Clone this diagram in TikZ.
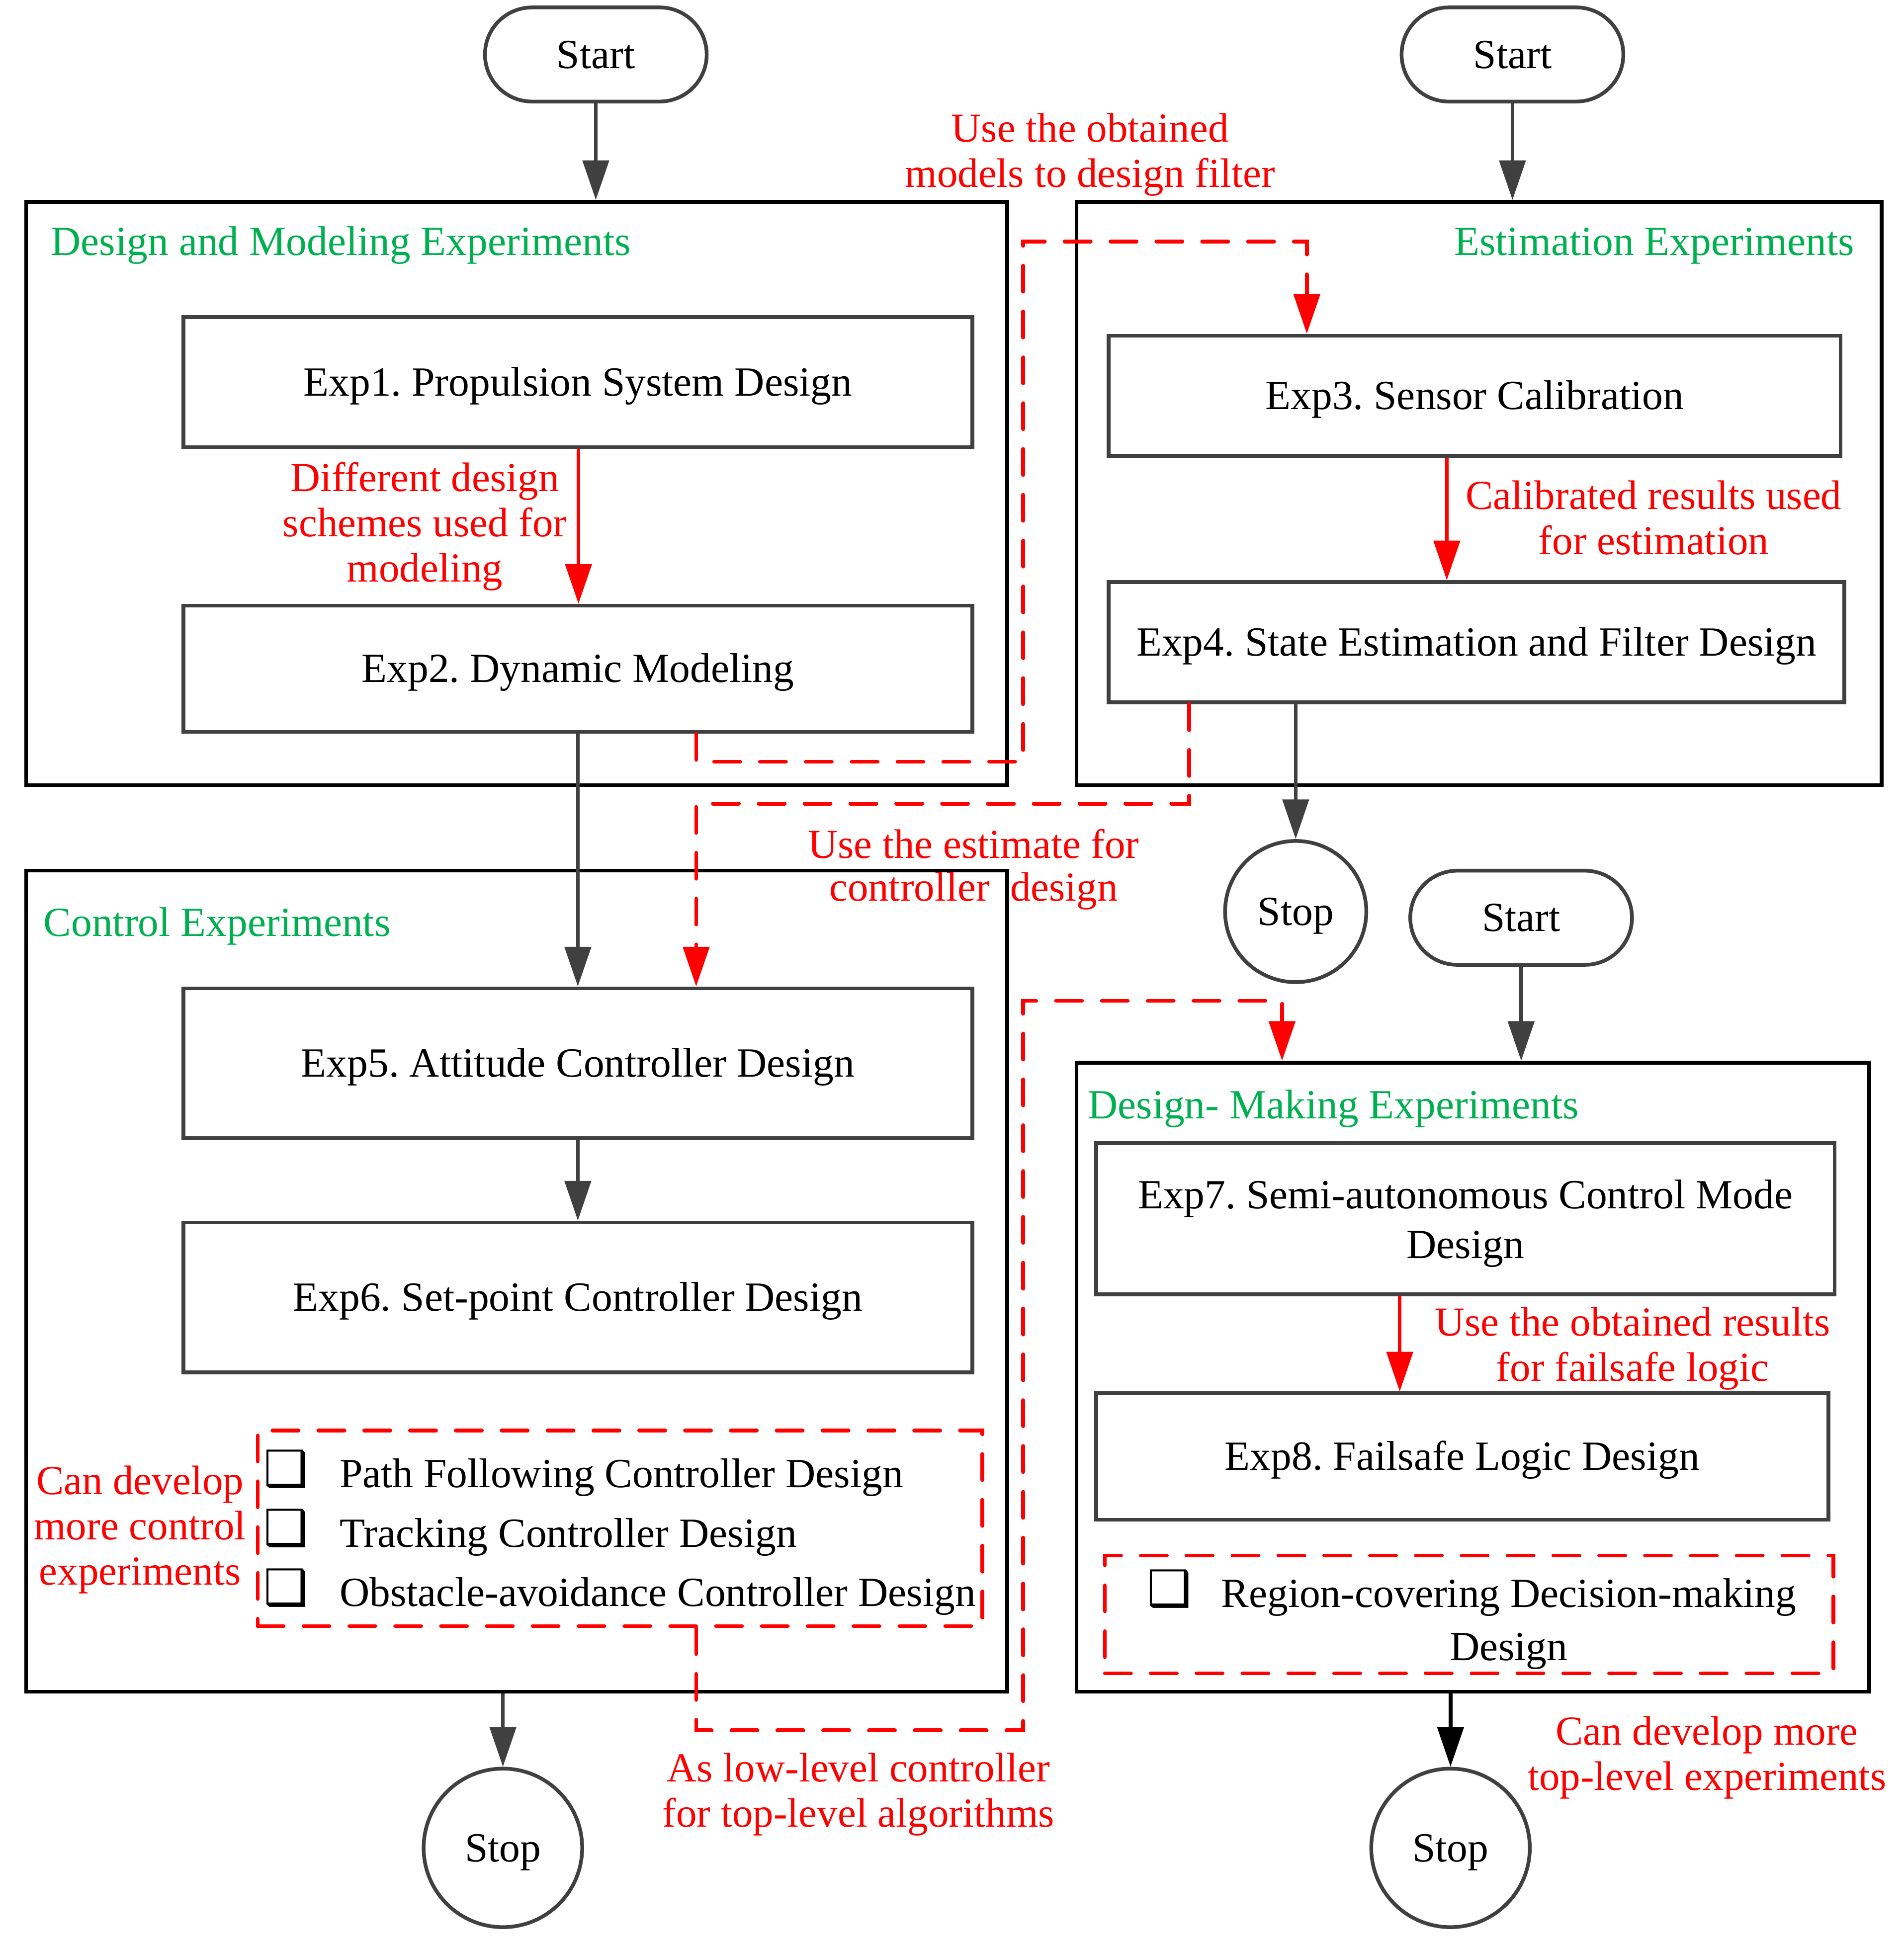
\documentclass[tikz,border=0pt]{standalone}
\usepackage{fontspec}
\setmainfont{Liberation Serif}
\newfontfamily\symfont{DejaVu Sans}
\usetikzlibrary{arrows.meta,calc}
\definecolor{dg}{HTML}{404040}
\definecolor{rd}{HTML}{FF0000}
\definecolor{gn}{HTML}{00B050}
\frenchspacing
\begin{document}
\begin{tikzpicture}[x=1pt,y=-1pt,
  every node/.style={font=\fontsize{33.5}{37}\selectfont,inner sep=0pt},
  one/.style={text height=25pt,text depth=3pt},
  box/.style={draw=dg,line width=3pt,align=center},
  grp/.style={draw=black,line width=3pt},
  term/.style={draw=dg,line width=3pt,rounded corners=38pt,minimum width=179pt,minimum height=76pt,one},
  stopc/.style={draw=dg,line width=3pt,circle,one},
  garr/.style={draw=dg,line width=3pt,-{Triangle[length=32pt,width=21pt]}},
  barr/.style={draw=black,line width=3pt,-{Triangle[length=32pt,width=21pt]}},
  rarr/.style={draw=rd,line width=3pt,-{Triangle[length=32pt,width=21pt]}},
  rdash/.style={draw=rd,line width=3pt,dash pattern=on 21pt off 16pt,line cap=round},
  rdarr/.style={rdash,-{Triangle[length=32pt,width=21pt]}},
  rlab/.style={text=rd,align=center,font=\fontsize{33.3}{36.5}\selectfont},
  glab/.style={text=gn},
  cb/.style={font=\symfont\bfseries\fontsize{40}{40}\selectfont},
]
\useasboundingbox (0,0) rectangle (1537,1568);

% groups
\node[grp,minimum width=792pt,minimum height=471pt] (g1) at (417,398.5) {};
\node[grp,minimum width=650pt,minimum height=471pt] (g2) at (1194,398.5) {};
\node[grp,minimum width=792pt,minimum height=663pt] (g3) at (417,1034.5) {};
\node[grp,minimum width=640pt,minimum height=508pt] (g4) at (1189,1112) {};

\node[glab,anchor=base west] (t1) at (41,206) {Design and Modeling Experiments};
\node[glab,anchor=base east] (t2) at (1497,206) {Estimation Experiments};
\node[glab,anchor=base west] (t3) at (35,756) {Control Experiments};
\node[glab,anchor=base west] (t4) at (878,903) {Design- Making Experiments};

% terminals
\node[term] (st1) at (481,44) {Start};
\node[term] (st2) at (1221,44) {Start};
\node[term] (st3) at (1228,741) {Start};
\node[stopc,minimum size=114pt] (sp1) at (1046,736) {Stop};
\node[stopc,minimum size=128pt] (sp2) at (406,1492) {Stop};
\node[stopc,minimum size=128pt] (sp3) at (1171,1492) {Stop};

% experiment boxes
\node[box,one,minimum width=637pt,minimum height=105pt] (e1) at (466.5,308.5) {Exp1. Propulsion System Design};
\node[box,one,minimum width=637pt,minimum height=102pt] (e2) at (466.5,540) {Exp2. Dynamic Modeling};
\node[box,one,minimum width=591pt,minimum height=97pt] (e3) at (1190.5,319.5) {Exp3. Sensor Calibration};
\node[box,one,minimum width=594pt,minimum height=97pt] (e4) at (1192,518.5) {Exp4. State Estimation and Filter Design};
\node[box,one,minimum width=637pt,minimum height=121pt] (e5) at (466.5,858.5) {Exp5. Attitude Controller Design};
\node[box,one,minimum width=637pt,minimum height=121pt] (e6) at (466.5,1047.5) {Exp6. Set-point Controller Design};
\node[box,minimum width=596pt,minimum height=122pt] (e7) at (1183,984) {};
\node[align=center,font=\fontsize{33.5}{40}\selectfont] (e7t) at (1183,988) {Exp7. Semi-autonomous Control Mode\\Design};
\node[box,one,minimum width=591pt,minimum height=102pt] (e8) at (1180.5,1176) {Exp8. Failsafe Logic Design};

% dashed lists
\node[rdash,minimum width=585pt,minimum height=158pt] (lst) at (500.5,1234) {};
\node[cb] (c1) at (231,1186) {❑};
\node[cb] (c2) at (231,1234) {❑};
\node[cb] (c3) at (231,1282) {❑};
\node[anchor=base west] (i1) at (274,1201) {Path Following Controller Design};
\node[anchor=base west] (i2) at (274,1249) {Tracking Controller Design};
\node[anchor=base west] (i3) at (274,1297) {Obstacle-avoidance Controller Design};

\node[rdash,minimum width=588pt,minimum height=95pt] (rg) at (1186,1303.5) {};
\node[cb] (c4) at (944,1283) {❑};
\node[align=center,font=\fontsize{33.5}{43}\selectfont] (i4) at (1218,1311) {Region-covering Decision-making\\Design};

% gray arrows
\draw[garr] (st1) -- (st1 |- g1.north);
\draw[garr] (st2) -- (st2 |- g2.north);
\draw[garr] (e2) -- (e5);
\draw[garr] (e5) -- (e6);
\draw[garr] (e4.south -| sp1) -- (sp1);
\draw[garr] (g3.south -| sp2) -- (sp2);
\draw[garr] (st3) -- (st3 |- g4.north);
\draw[barr] (g4.south -| sp3) -- (sp3);

% red arrows
\coordinate (x12) at (467,0);
\coordinate (x34) at (1168,0);
\coordinate (x78) at (1130,0);
\draw[rarr] (e1.south -| x12) -- (e2.north -| x12);
\draw[rarr] (e3.south -| x34) -- (e4.north -| x34);
\draw[rarr] (e7.south -| x78) -- (e8.north -| x78);

% dashed connectors
\coordinate (d1a) at (562,615);
\coordinate (d1b) at (826,195);
\coordinate (d1c) at (1055,195);
\draw[rdarr] (e2.south -| d1a) -- (d1a) -| (d1b) -- (d1c) -- (e3.north -| d1c);
\coordinate (d2a) at (960,649);
\coordinate (d2b) at (562,649);
\draw[rdarr] (e4.south -| d2a) -- (d2a) -- (d2b) -- (e5.north -| d2b);
\coordinate (d3a) at (562,1397);
\coordinate (d3b) at (826,808);
\coordinate (d3c) at (1035,808);
\draw[rdarr] (lst.south -| d3a) -- (d3a) -| (d3b) -- (d3c) -- (g4.north -| d3c);

% red labels
\node[rlab] (l1) at (880,125) {Use the obtained\\models to design filter};
\node[rlab] (l2) at (343,425) {Different design\\schemes used for\\modeling};
\node[rlab] (l3) at (1335,418) {Calibrated results used\\for estimation};
\node[rlab,font=\fontsize{33.3}{34.5}\selectfont] (l4) at (786,702) {Use the estimate for\\controller\ \ design};
\node[rlab] (l5) at (113,1235) {Can develop\\more control\\experiments};
\node[rlab] (l6) at (1318,1089) {Use the obtained results\\for failsafe logic};
\node[rlab] (l7) at (693,1449) {As low-level controller\\for top-level algorithms};
\node[rlab] (l8) at (1378,1419) {Can develop more\\top-level experiments};
\end{tikzpicture}
\end{document}
